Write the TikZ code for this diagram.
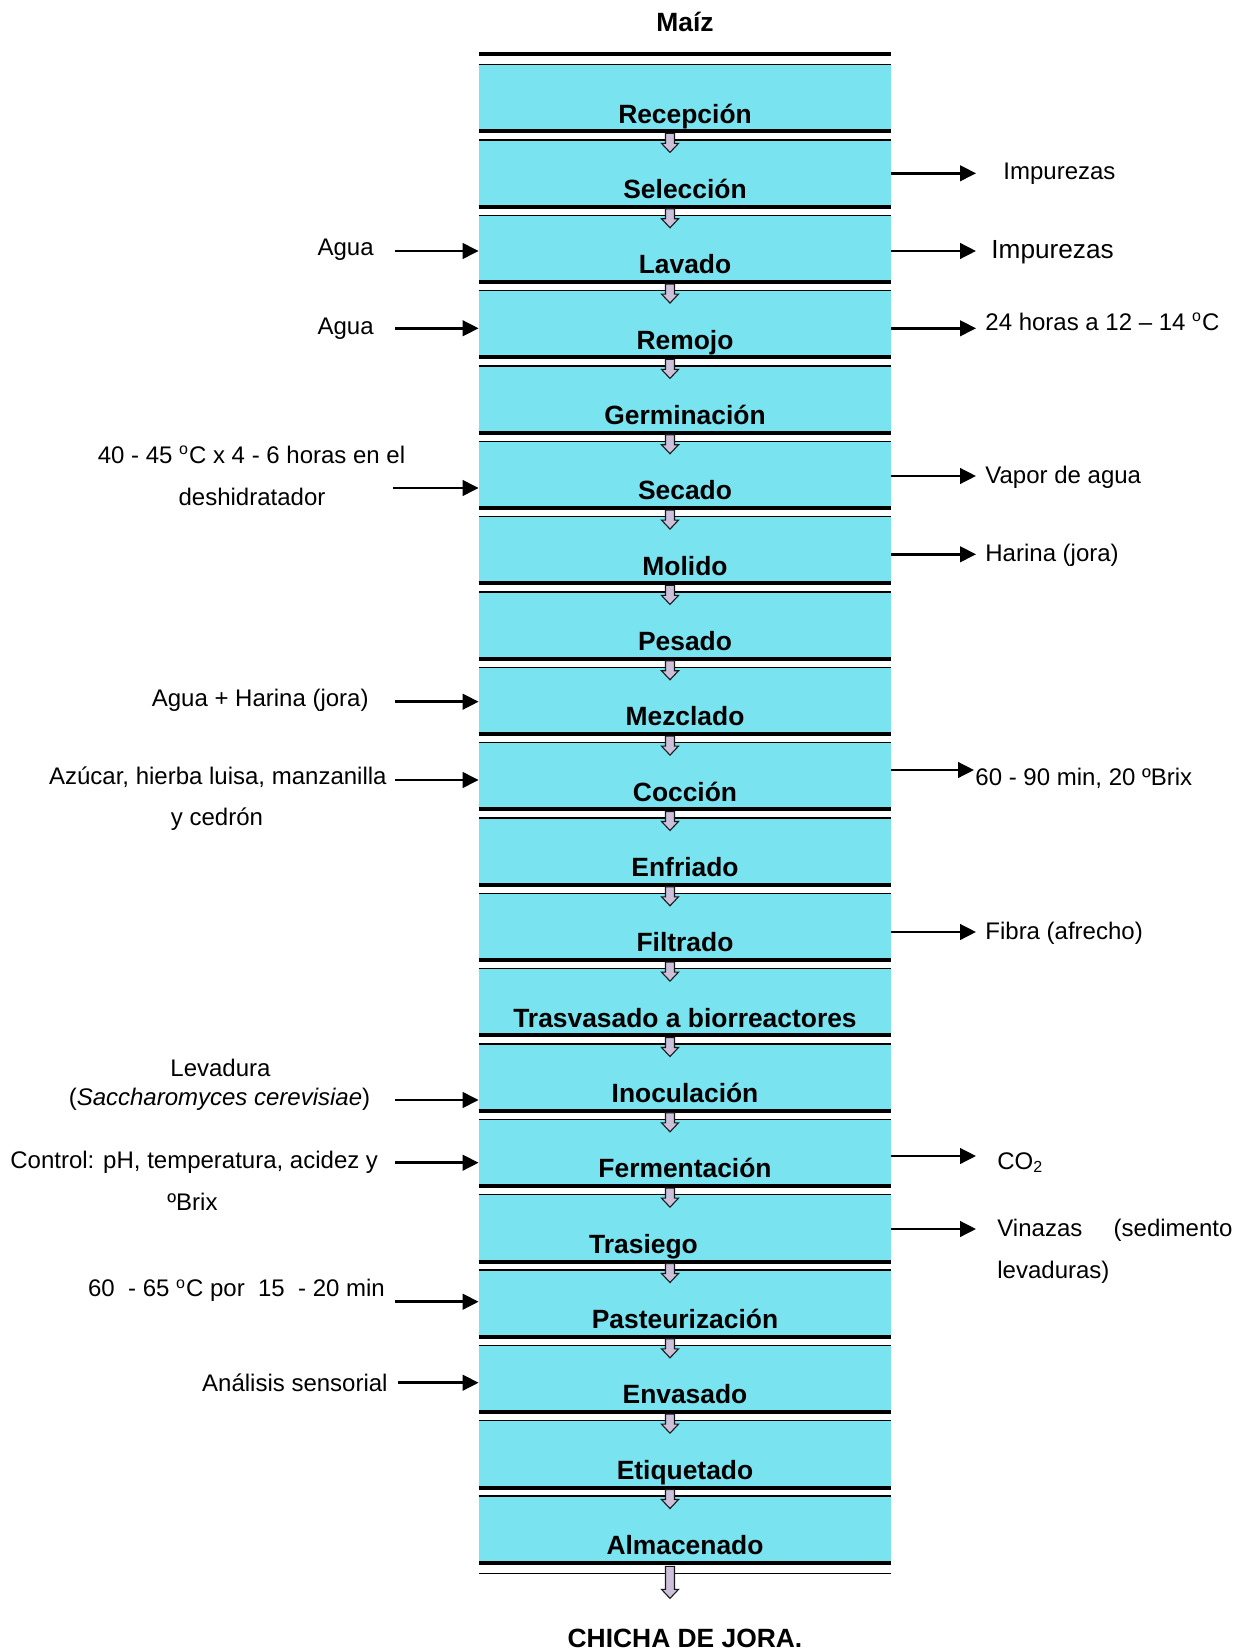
\documentclass[tikz,border=0pt]{standalone}
\usepackage{fontspec}
\setmainfont{Liberation Sans}
\usetikzlibrary{arrows.meta,calc}
\definecolor{stepfill}{RGB}{122,227,240}
\definecolor{flowfill}{RGB}{204,192,218}

% small block arrow between two stages: #1 = top point, #2 = length (px units)
\newcommand{\stepflow}[2]{%
  \draw[flowarrow] (#1) ++(-4.5,0) -- ++(0,{#2-9}) -- ++(-4,0) -- ++(8.5,9)
    -- ++(8.5,-9) -- ++(-4,0) -- ++(0,{9-#2}) -- cycle;}

\begin{document}
\begin{tikzpicture}[x=0.5pt,y=-0.5pt,
  stepbox/.style={fill=stepfill, inner sep=0pt, minimum width=206pt, minimum height=33pt},
  steplabel/.style={font=\bfseries\fontsize{13.2}{15}\selectfont, inner sep=0pt},
  sidetext/.style={font=\fontsize{12}{14}\selectfont, inner sep=0pt},
  bigtext/.style={font=\fontsize{13.1}{15}\selectfont, inner sep=0pt},
  thickrule/.style={line width=2pt},
  thinrule/.style={line width=0.75pt},
  sidearrow/.style={line width=1.25pt, -{Triangle[length=8pt,width=7.8pt]}},
  flowarrow/.style={fill=flowfill, draw=black!90, line width=0.55pt},
]
\useasboundingbox (0,0) rectangle (1245,1652);
\fill[white] (0,0) rectangle (1245,1652);

% process stages
\foreach \i/\txt/\dx in {0/Recepción/0, 1/Selección/0, 2/Lavado/0, 3/Remojo/0,
    4/Germinación/0, 5/Secado/0, 6/Molido/0, 7/Pesado/0, 8/Mezclado/0,
    9/Cocción/0, 10/Enfriado/0, 11/Filtrado/0, 12/Trasvasado a biorreactores/0,
    13/Inoculación/0, 14/Fermentación/0, 15/Trasiego/-41.5, 16/Pasteurización/0,
    17/Envasado/0, 18/Etiquetado/0, 19/Almacenado/0} {
  \node[stepbox] (b\i) at (685,{98+75.34*\i}) {};
  \draw[thinrule] (b\i.north west) -- (b\i.north east);
  \draw[thickrule] (b\i.south west) -- (b\i.south east);
  \node[steplabel, anchor=base] (t\i) at ($(b\i.south)+(\dx,-8.3)$) {\txt};
}
\draw[thickrule] ([yshift=5.5pt]b0.north west) -- ([yshift=5.5pt]b0.north east);
\draw[thinrule] ([yshift=-5.3pt]b19.south west) -- ([yshift=-5.3pt]b19.south east);

% flow arrows between stages
\foreach \i in {0,...,18} {
  \coordinate (f\i) at ($(b\i.south)+(-15,2)$);
  \stepflow{f\i}{19}
}
\coordinate (fend) at ($(b19.south)+(-15,3.5)$);
\stepflow{fend}{32}

% raw material and product
\node[steplabel, anchor=base] (maiz) at (685,31.7) {Maíz};
\node[steplabel, anchor=base] (producto) at (685,1647) {CHICHA DE JORA.};

% outputs (right side)
\coordinate (r1) at (976,173.3);
\draw[sidearrow] (r1 -| b1.east) -- (r1);
\node[sidetext, anchor=base west] (o1) at (1003,180) {Impurezas};

\coordinate (r2) at (976,251);
\draw[sidearrow] (r2 -| b2.east) -- (r2);
\node[bigtext, anchor=base west] (o2) at (991,258.3) {Impurezas};

\coordinate (r3) at (976,328.3);
\draw[sidearrow] (r3 -| b3.east) -- (r3);
\node[sidetext, anchor=base west] (o3) at (985,330.7) {24 horas a 12 – 14 \textsuperscript{o}C};

\coordinate (r5) at (976,476);
\draw[sidearrow] (r5 -| b5.east) -- (r5);
\node[sidetext, anchor=base west] (o5) at (985,483) {Vapor de agua};

\coordinate (r6) at (976,554.3);
\draw[sidearrow] (r6 -| b6.east) -- (r6);
\node[sidetext, anchor=base west] (o6) at (985,561.7) {Harina (jora)};

\coordinate (r9) at (974,770);
\draw[sidearrow] (r9 -| b9.east) -- (r9);
\node[sidetext, anchor=base west] (o9) at (975,785) {60 - 90 min, 20 ºBrix};

\coordinate (r11) at (976,932);
\draw[sidearrow] (r11 -| b11.east) -- (r11);
\node[sidetext, anchor=base west] (o11) at (985,939.5) {Fibra (afrecho)};

\coordinate (r14) at (976,1156);
\draw[sidearrow] (r14 -| b14.east) -- (r14);
\node[sidetext, anchor=base west] (o14) at (997,1169.3) {CO\textsubscript{2}};

\coordinate (r15) at (976,1229);
\draw[sidearrow] (r15 -| b15.east) -- (r15);
\node[sidetext, anchor=base west] (o15a) at (997,1236) {\makebox[117.5pt][s]{Vinazas (sedimento}};
\node[sidetext, anchor=base west] (o15b) at (997,1278.3) {levaduras)};

% inputs and conditions (left side)
\coordinate (l2) at (395,251);
\draw[sidearrow] (l2) -- (l2 -| b2.west);
\node[sidetext, anchor=base east] (i2) at (374,255.7) {Agua};

\coordinate (l3) at (395,328.3);
\draw[sidearrow] (l3) -- (l3 -| b3.west);
\node[sidetext, anchor=base east] (i3) at (374,335) {Agua};

\coordinate (l5) at (393,488);
\draw[sidearrow] (l5) -- (l5 -| b5.west);
\node[sidetext, anchor=base] (i5a) at (251.5,463.3) {40 - 45 \textsuperscript{o}C x 4 - 6 horas en el};
\node[sidetext, anchor=base] (i5b) at (252,505) {deshidratador};

\coordinate (l8) at (395,701.7);
\draw[sidearrow] (l8) -- (l8 -| b8.west);
\node[sidetext, anchor=base east] (i8) at (369,706.7) {Agua + Harina (jora)};

\coordinate (l9) at (395,780);
\draw[sidearrow] (l9) -- (l9 -| b9.west);
\node[sidetext, anchor=base east] (i9a) at (387,784) {Azúcar, hierba luisa, manzanilla};
\node[sidetext, anchor=base] (i9b) at (217,825.7) {y cedrón};

\coordinate (l13) at (395,1100);
\draw[sidearrow] (l13) -- (l13 -| b13.west);
\node[sidetext, anchor=base] (i13a) at (220.5,1076.7) {Levadura};
\node[sidetext, anchor=base] (i13b) at (219.5,1105) {(\textit{Saccharomyces cerevisiae})};

\coordinate (l14) at (395,1162.7);
\draw[sidearrow] (l14) -- (l14 -| b14.west);
\node[sidetext, anchor=base] (i14a) at (194.2,1168.3) {Control: pH, temperatura, acidez y};
\node[sidetext, anchor=base] (i14b) at (192.5,1210) {ºBrix};

\coordinate (l16) at (395,1301.7);
\draw[sidearrow] (l16) -- (l16 -| b16.west);
\node[sidetext, anchor=base] (i16) at (236.5,1296.7) {60\ \ - 65 \textsuperscript{o}C por\ \ 15\ \ - 20 min};

\coordinate (l17) at (398,1382.7);
\draw[sidearrow] (l17) -- (l17 -| b17.west);
\node[sidetext, anchor=base east] (i17) at (388,1391.7) {Análisis sensorial};
\end{tikzpicture}
\end{document}
